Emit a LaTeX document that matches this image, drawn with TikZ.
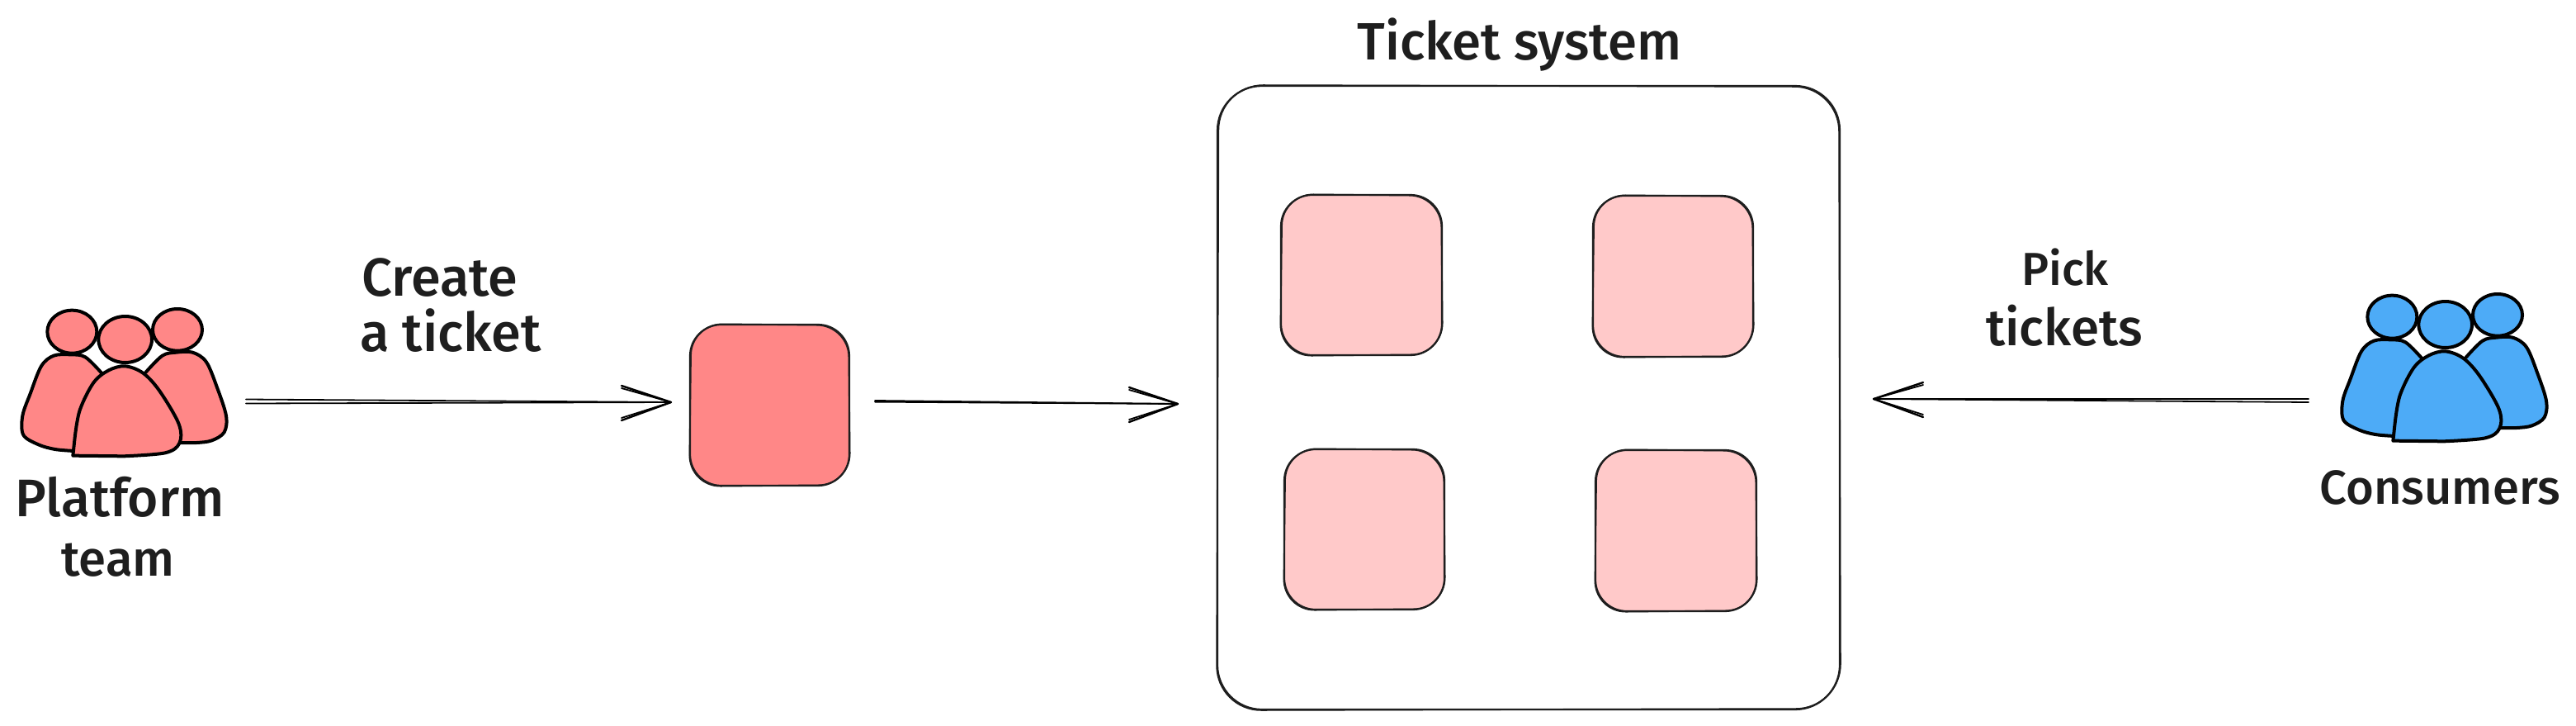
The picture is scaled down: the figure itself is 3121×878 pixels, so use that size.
\documentclass[tikz,border=0pt]{standalone}
\usepackage{fontspec}
\setmainfont{Fira Sans Medium}
\definecolor{ink}{HTML}{1E1E1E}
\definecolor{redfill}{HTML}{FF8787}
\definecolor{pinkfill}{HTML}{FFC9C9}
\definecolor{bluefill}{HTML}{4DABF7}
\tikzset{
  inkline/.style={draw=ink,line width=0.9pt,fill=none},
  boxnode/.style={rectangle,draw=ink,line width=1.1pt,inner sep=0pt,outer sep=0pt},
  personline/.style={draw=black,line width=2pt,line join=round,line cap=round},
  conn/.style={draw=black,line width=0.9pt,line cap=round},
  connhead/.style={draw=black,line width=1.2pt,line cap=round},
  lab/.style={anchor=base,text=ink,inner sep=0pt},
}
\newcommand{\labsize}[1]{\fontsize{#1}{#1}\selectfont}
% name, left, top, right, bottom, fill, radius in pt
\newcommand{\sketchbox}[7]{%
  \node[boxnode,rounded corners=#7pt,fill=#6,minimum width={(#4-#2)*0.5pt},minimum height={(#5-#3)*0.5pt}] (#1) at ({(#2+#4)/2},{(#3+#5)/2}) {};
  \draw[inkline,rounded corners=#7pt] ({#2+1.5},{#3-1}) -- ({#4-1},{#3+1}) -- ({#4+1},{#5-1}) -- ({#2-1},{#5+1}) -- cycle;
}
% dx, dy, fill
\newcommand{\peoplegroup}[3]{%
  \begin{scope}[shift={(#1,{#2+300})},scale=1/3]
    \path[personline,fill=#3] plot[smooth,tension=.55] coordinates {(372,458) (310,397) (255,388) (195,392) (150,430) (110,530) (82,610) (85,680) (140,715) (200,732) (270,738)};
    \path[personline,fill=#3] plot[smooth,tension=.55] coordinates {(530,452) (590,392) (640,380) (700,380) (750,415) (790,510) (822,610) (815,670) (770,700) (715,708) (655,708)};
    \path[personline,fill=#3] (262,305) ellipse [x radius=90,y radius=78];
    \path[personline,fill=#3] (645,298) ellipse [x radius=90,y radius=76];
    \path[personline,fill=#3] (455,333) ellipse [x radius=97,y radius=84];
    \path[personline,fill=#3] (265,755) -- plot[smooth,tension=.55] coordinates {(272,690) (290,590) (340,490) (395,445) (455,430) (520,455) (580,520) (650,640) (652,710) (600,745) (450,757)} -- cycle;
  \end{scope}
}
% start, tip, head length (signed), separation of the double line in pt
\newcommand{\sketcharrow}[4]{%
  \draw[conn] (#1) -- (#2);
  \draw[conn] ([yshift=-#4pt]#1) -- (#2);
  \draw[connhead] (#2) -- ++(#3,-20);
  \draw[connhead] (#2) -- ++(#3,22);
  \draw[conn] (#2) -- ++(#3,-17);
  \draw[conn] (#2) -- ++(#3,19);
}
\begin{document}
\begin{tikzpicture}[x=0.5pt,y=-0.5pt]
\path[use as bounding box,fill=white] (0,0) rectangle (3121,878);

% outer system box
\sketchbox{system}{1475}{104}{2229}{859}{white}{27}
% tickets inside
\sketchbox{tka}{1552}{236}{1747}{430}{pinkfill}{19}
\sketchbox{tkb}{1930}{237}{2124}{432}{pinkfill}{19}
\sketchbox{tkc}{1556}{544}{1750}{738}{pinkfill}{19}
\sketchbox{tkd}{1933}{545}{2128}{740}{pinkfill}{19}
% new ticket
\sketchbox{newticket}{836}{393}{1029}{588}{redfill}{19}

% people
\peoplegroup{0}{0}{redfill}
\peoplegroup{2811}{-18}{bluefill}
\coordinate (platform) at (152,480);
\coordinate (consumers) at (2963,462);

% connector ends
\coordinate (a1s) at ([xshift=73pt,yshift=-1.75pt]platform);
\coordinate (a1e) at ([xshift=-11.5pt,yshift=1.75pt]newticket.west);
\coordinate (a2s) at ([xshift=15.5pt,yshift=2.75pt]newticket.east);
\coordinate (a2e) at ([xshift=-24pt,yshift=-3.75pt]system.west);
\coordinate (a3s) at ([xshift=-83pt,yshift=-10.5pt]consumers);
\coordinate (a3e) at ([xshift=20.5pt,yshift=-0.75pt]system.east);

\sketcharrow{a1s}{a1e}{-60}{2.5}
\sketcharrow{a2s}{a2e}{-59}{0.8}
\sketcharrow{a3s}{a3e}{60}{2}

% labels
\node[lab,font=\labsize{31.8}] (tsys) at (1841,72) {Ticket system};
\node[lab,font=\labsize{32.5}] (create) at (533,358) {Create};
\node[lab,font=\labsize{32.5}] (aticket) at (546,425) {a ticket};
\node[lab,font=\labsize{28}] (pick) at (2502,345) {Pick};
\node[lab,font=\labsize{31}] (tickets) at (2501,418) {tickets};
\node[lab,font=\labsize{32}] (plat) at (145,625) {Platform};
\node[lab,font=\labsize{30}] (team) at (143,697) {team};
\node[lab,font=\labsize{29}] (cons) at (2956,610) {Consumers};
\end{tikzpicture}
\end{document}
